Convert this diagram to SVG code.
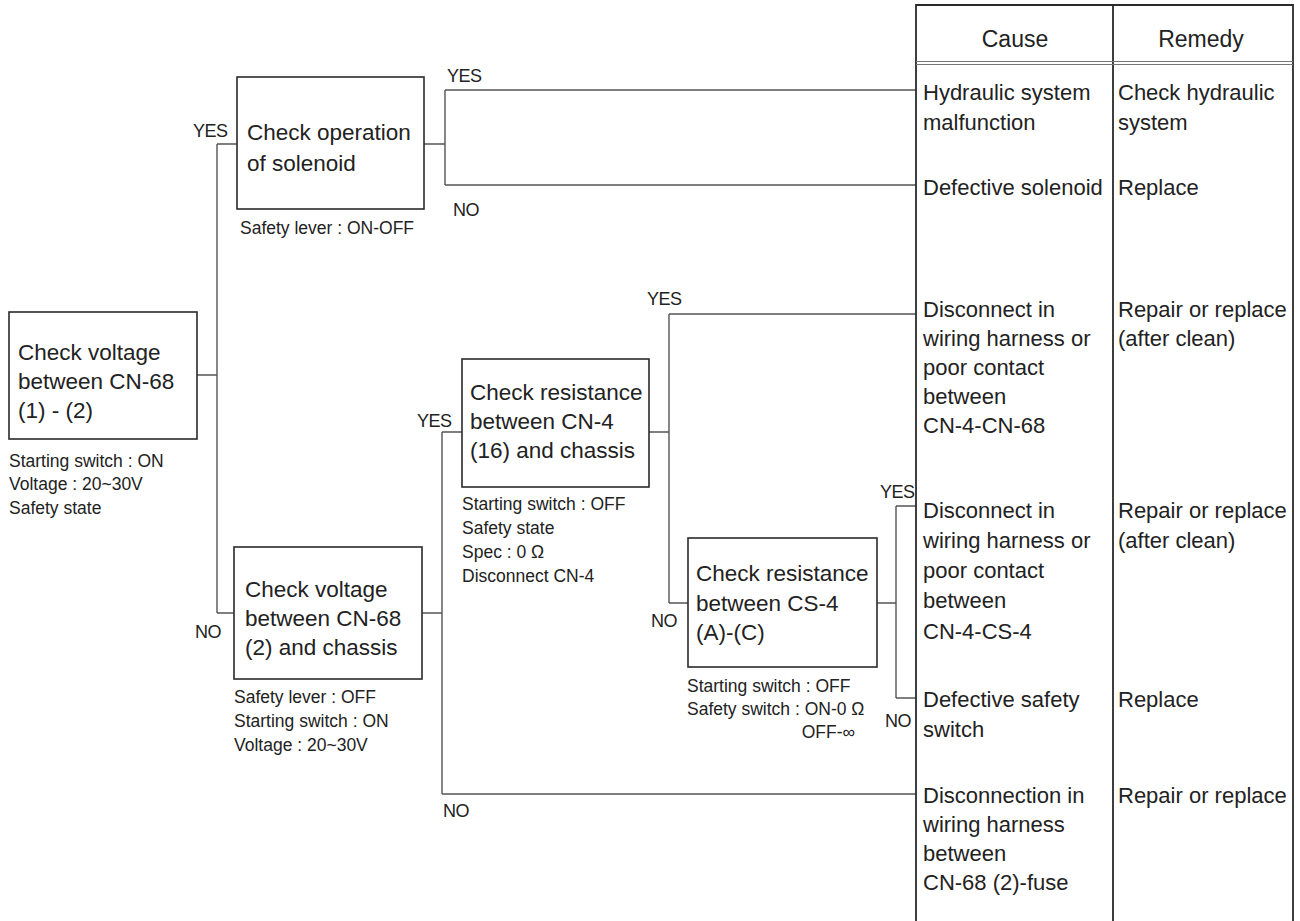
<svg xmlns="http://www.w3.org/2000/svg" width="1300" height="921" viewBox="0 0 1300 921">
<style>
text{font-family:"Liberation Sans",Arial,sans-serif;fill:#222}
.box{fill:#fff;stroke:#2a2a2a;stroke-width:1.6}
.bt{font-size:22.5px}
.nt{font-size:17.5px}
.lb{font-size:18px;letter-spacing:-0.5px}
.tt{font-size:22px}
.hd{font-size:23px;text-anchor:middle}
.cn{fill:none;stroke:#555;stroke-width:1.4}
.tb{fill:none;stroke:#2a2a2a;stroke-width:1.8}
.tl{fill:none;stroke:#777;stroke-width:1.2}
</style>
<rect width="1300" height="921" fill="#fff"/>
<g id="connectors">
<path class="cn" d="M197,375 H217 M217,144 V613 M217,144 H237 M217,613 H234"/>
<path class="cn" d="M424,144 H445 M445,90 V185 M445,90 H916 M445,185 H916"/>
<path class="cn" d="M422,613 H442 M442,432 V794 M442,432 H462 M442,794 H916"/>
<path class="cn" d="M649,432 H669 M669,314 V603 M669,314 H916 M669,603 H688"/>
<path class="cn" d="M877,603 H896 M896,506 V698 M896,506 H916 M896,698 H916"/>
</g>
<g id="table">
<path class="tb" d="M916,921 V5 H1293 V921 M1113,5 V921"/>
<path class="tl" d="M916,61.5 H1293 M916,64.5 H1293"/>
<text class="hd" x="1015" y="47">Cause</text>
<text class="hd" x="1201" y="47">Remedy</text>
<g class="tt">
<text x="923" y="100">Hydraulic system</text>
<text x="923" y="130">malfunction</text>
<text x="1118" y="100">Check hydraulic</text>
<text x="1118" y="130">system</text>
<text x="923" y="195">Defective solenoid</text>
<text x="1118" y="195">Replace</text>
<text x="923" y="317">Disconnect in</text>
<text x="923" y="346">wiring harness or</text>
<text x="923" y="375">poor contact</text>
<text x="923" y="404">between</text>
<text x="923" y="433">CN-4-CN-68</text>
<text x="1118" y="317">Repair or replace</text>
<text x="1118" y="346">(after clean)</text>
<text x="923" y="518">Disconnect in</text>
<text x="923" y="548">wiring harness or</text>
<text x="923" y="578">poor contact</text>
<text x="923" y="608">between</text>
<text x="923" y="639">CN-4-CS-4</text>
<text x="1118" y="518">Repair or replace</text>
<text x="1118" y="548">(after clean)</text>
<text x="923" y="707">Defective safety</text>
<text x="923" y="737">switch</text>
<text x="1118" y="707">Replace</text>
<text x="923" y="803">Disconnection in</text>
<text x="923" y="832">wiring harness</text>
<text x="923" y="861">between</text>
<text x="923" y="890">CN-68 (2)-fuse</text>
<text x="1118" y="803">Repair or replace</text>
</g>
</g>
<g id="labels" class="lb">
<text x="193" y="137">YES</text>
<text x="447" y="82">YES</text>
<text x="453" y="216">NO</text>
<text x="417" y="427">YES</text>
<text x="647" y="305">YES</text>
<text x="880" y="498">YES</text>
<text x="651" y="627">NO</text>
<text x="885" y="727">NO</text>
<text x="195" y="638">NO</text>
<text x="443" y="817">NO</text>
</g>
<g id="node0">
<rect class="box" x="9" y="312" width="188" height="127"/>
<text class="bt" x="18" y="360">Check voltage</text>
<text class="bt" x="18" y="389">between CN-68</text>
<text class="bt" x="18" y="418">(1) - (2)</text>
<text class="nt" x="9" y="467">Starting switch : ON</text>
<text class="nt" x="9" y="490">Voltage : 20~30V</text>
<text class="nt" x="9" y="514">Safety state</text>
</g>
<g id="node1">
<rect class="box" x="237" y="77" width="187" height="132"/>
<text class="bt" x="247" y="140">Check operation</text>
<text class="bt" x="247" y="171">of solenoid</text>
<text class="nt" x="240" y="234">Safety lever : ON-OFF</text>
</g>
<g id="node2">
<rect class="box" x="234" y="547" width="188" height="132"/>
<text class="bt" x="245" y="597">Check voltage</text>
<text class="bt" x="245" y="626">between CN-68</text>
<text class="bt" x="245" y="655">(2) and chassis</text>
<text class="nt" x="234" y="703">Safety lever : OFF</text>
<text class="nt" x="234" y="727">Starting switch : ON</text>
<text class="nt" x="234" y="751">Voltage : 20~30V</text>
</g>
<g id="node3">
<rect class="box" x="462" y="359" width="187" height="128"/>
<text class="bt" x="470" y="400">Check resistance</text>
<text class="bt" x="470" y="429">between CN-4</text>
<text class="bt" x="470" y="458">(16) and chassis</text>
<text class="nt" x="462" y="510">Starting switch : OFF</text>
<text class="nt" x="462" y="534">Safety state</text>
<text class="nt" x="462" y="558">Spec : 0 Ω</text>
<text class="nt" x="462" y="582">Disconnect CN-4</text>
</g>
<g id="node4">
<rect class="box" x="688" y="538" width="189" height="129"/>
<text class="bt" x="696" y="581">Check resistance</text>
<text class="bt" x="696" y="611">between CS-4</text>
<text class="bt" x="696" y="640">(A)-(C)</text>
<text class="nt" x="687" y="692">Starting switch : OFF</text>
<text class="nt" x="687" y="715">Safety switch : ON-0 Ω</text>
<text class="nt" x="855" y="738" text-anchor="end">OFF-∞</text>
</g>
</svg>
